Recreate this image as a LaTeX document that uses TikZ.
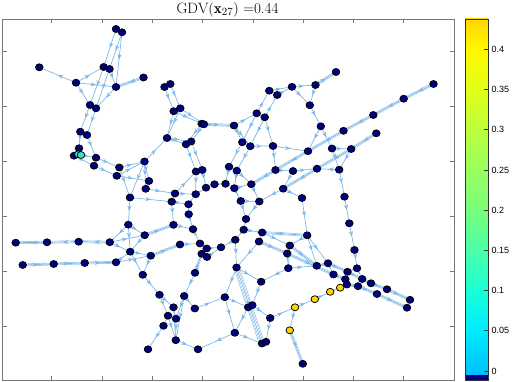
\documentclass[tikz,border=0pt]{standalone}
\usepackage{fontspec}
\newfontfamily\axfont{Liberation Sans}
\usetikzlibrary{arrows.meta,decorations.markings,backgrounds,shapes.geometric}
\definecolor{navy}{RGB}{0,0,130}
\definecolor{gnode}{RGB}{255,212,0}
\definecolor{tnode}{RGB}{60,225,200}
\definecolor{eblue}{RGB}{125,185,232}
\definecolor{framec}{RGB}{120,120,120}
\definecolor{cbA}{RGB}{0,188,255}
\definecolor{cbB}{RGB}{0,195,255}
\definecolor{cbC}{RGB}{0,235,255}
\definecolor{cbD}{RGB}{25,255,212}
\definecolor{cbE}{RGB}{75,255,168}
\definecolor{cbF}{RGB}{120,255,122}
\definecolor{cbG}{RGB}{152,255,95}
\definecolor{cbH}{RGB}{188,255,60}
\definecolor{cbI}{RGB}{226,255,25}
\definecolor{cbJ}{RGB}{255,248,0}
\definecolor{cbK}{RGB}{255,214,0}
\begin{document}
\begin{tikzpicture}[x=1pt,y=-1pt,
  nd/.style={ellipse,draw=black,line width=0.75pt,fill=navy,inner sep=0pt,minimum width=7.6pt,minimum height=7.0pt},
  ynd/.style={nd,fill=gnode},
  tnd/.style={nd,fill=tnode},
  ed/.style={draw=eblue,line width=0.7pt,postaction={decorate},
    decoration={markings,mark=at position 0.5 with {\arrow{Stealth[length=5.5pt,width=4.2pt]}}}},
  bd/.style={ed,preaction={draw=eblue,line width=0.55pt,double=white,double distance=1.5pt}},
  wb/.style={ed,preaction={draw=eblue,line width=0.55pt,double=white,double distance=4.6pt},
    preaction={draw=eblue,line width=0.5pt,double=white,double distance=2.2pt}},
  frame/.style={draw=framec,line width=0.7pt},
  lab/.style={anchor=west,inner sep=0pt,font=\axfont\fontsize{9}{10}\selectfont}]
\useasboundingbox (0,0) rectangle (512,382);
% axes frame
\draw[frame] (2,19) rectangle (454.3,380.3);
\foreach \k in {0,...,7}{
  \pgfmathsetmacro{\xx}{51.7+50.3*\k}
  \draw[frame] (\xx,19) -- (\xx,23.5);
  \draw[frame] (\xx,380.3) -- (\xx,375.8);
}
\foreach \k in {0,...,5}{
  \pgfmathsetmacro{\yy}{51.7+54.9*\k}
  \draw[frame] (2,\yy) -- (6.5,\yy);
  \draw[frame] (454.3,\yy) -- (449.8,\yy);
}
\node[font=\fontsize{15}{17}\selectfont] (title) at (227.5,10) {$\mathrm{GDV}(\mathbf{x}_{27})$ =0.44};
% nodes
\node[nd] (A1) at (39.3,67.3) {};
\node[nd] (A2) at (76,82.7) {};
\node[nd] (A3) at (103.7,67) {};
\node[nd] (A4) at (109.5,69) {};
\node[nd] (A5) at (116,29) {};
\node[nd] (A6) at (122,32.3) {};
\node[nd] (A7) at (116,87) {};
\node[nd] (A8) at (143.5,77.5) {};
\node[nd] (A9) at (90,105) {};
\node[nd] (A10) at (96,108.3) {};
\node[nd] (A11) at (80.3,131.7) {};
\node[nd] (A12) at (87,135) {};
\node[nd] (A13) at (79,148.3) {};
\node[nd] (A14) at (74,155.7) {};
\node[tnd] (T1) at (78.3,154.3) {};
\node[tnd] (T2) at (81,155) {};
\node[nd] (A15) at (96,157.7) {};
\node[nd] (A16) at (94,165.7) {};
\node[nd] (A17) at (119.3,167.5) {};
\node[nd] (A18) at (116.8,175.8) {};
\node[nd] (A19) at (144.5,161.5) {};
\node[nd] (A20) at (149,181) {};
\node[nd] (A21) at (145.7,188.8) {};
\node[nd] (A22) at (130,197.5) {};
\node[nd] (B1) at (164.5,87) {};
\node[nd] (B2) at (170.3,84) {};
\node[nd] (B3) at (173.7,111.2) {};
\node[nd] (B4) at (180.3,108.3) {};
\node[nd] (B5) at (201.7,123.7) {};
\node[nd] (B6) at (204,124.3) {};
\node[nd] (B7) at (167,138) {};
\node[nd] (B8) at (186,144.3) {};
\node[nd] (B9) at (191.2,141.5) {};
\node[nd] (B10) at (234,125.5) {};
\node[nd] (B11) at (256.7,113.3) {};
\node[nd] (B12) at (264.7,117.3) {};
\node[nd] (B13) at (242.3,142.2) {};
\node[nd] (B14) at (250.3,146.2) {};
\node[nd] (B15) at (229,166.7) {};
\node[nd] (B16) at (236.8,170.7) {};
\node[nd] (B17) at (196,171.5) {};
\node[nd] (B18) at (202.3,170) {};
\node[nd] (B19) at (206,187.7) {};
\node[nd] (B20) at (214.5,184.3) {};
\node[nd] (B21) at (225.5,183.8) {};
\node[nd] (B22) at (234.3,188.2) {};
\node[nd] (B23) at (251.3,184.2) {};
\node[nd] (B24) at (175,193.5) {};
\node[nd] (B25) at (195.7,194.2) {};
\node[nd] (C1) at (269.3,90.7) {};
\node[nd] (C2) at (277.2,95) {};
\node[nd] (C3) at (292,86.8) {};
\node[nd] (C4) at (315.5,85) {};
\node[nd] (C5) at (336,72) {};
\node[nd] (C6) at (309.8,105.2) {};
\node[nd] (C7) at (320.8,126.3) {};
\node[nd] (C8) at (343.5,130.8) {};
\node[nd] (C9) at (376.3,133.3) {};
\node[nd] (C10) at (373.3,115) {};
\node[nd] (C11) at (403.7,98.7) {};
\node[nd] (C12) at (433.5,84) {};
\node[nd] (C13) at (273,146) {};
\node[nd] (C14) at (308,151.2) {};
\node[nd] (C15) at (332,148.5) {};
\node[nd] (C16) at (351.2,149) {};
\node[nd] (C17) at (275.5,170) {};
\node[nd] (C18) at (293,171) {};
\node[nd] (C19) at (317,168.7) {};
\node[nd] (C20) at (339.2,169.7) {};
\node[nd] (C21) at (283.2,188.7) {};
\node[nd] (C22) at (302,198) {};
\node[nd] (C23) at (344.5,196.7) {};
\node[nd] (D1) at (240.8,201) {};
\node[nd] (D2) at (259.3,201.5) {};
\node[nd] (D3) at (246,219) {};
\node[nd] (D4) at (243.7,229.7) {};
\node[nd] (D5) at (262.2,232.5) {};
\node[nd] (D6) at (259,241.5) {};
\node[nd] (D7) at (235.3,239.8) {};
\node[nd] (D8) at (221,247.3) {};
\node[nd] (D9) at (236.5,267.5) {};
\node[nd] (D10) at (261.2,281.7) {};
\node[nd] (D11) at (224.8,297.2) {};
\node[nd] (D12) at (248.2,307.3) {};
\node[nd] (D13) at (252.3,305.2) {};
\node[nd] (D14) at (270.2,318) {};
\node[nd] (D15) at (234.8,332.8) {};
\node[nd] (D16) at (262,343.5) {};
\node[nd] (D16b) at (266,341.8) {};
\node[nd] (D17) at (307.2,235.3) {};
\node[nd] (D18) at (289.8,245.5) {};
\node[nd] (D19) at (287.2,253.5) {};
\node[nd] (D20) at (288.3,268.2) {};
\node[nd] (D21) at (316.7,265.8) {};
\node[nd] (D22) at (328,263.3) {};
\node[nd] (D23) at (333.5,274.5) {};
\node[nd] (D24) at (349.3,223.3) {};
\node[nd] (D25) at (354.5,250) {};
\node[nd] (D26) at (357,268.3) {};
\node[nd] (D27) at (347.5,271.8) {};
\node[nd] (D28) at (345.3,279.3) {};
\node[nd] (D29) at (346.8,284.5) {};
\node[nd] (D30) at (362.2,279) {};
\node[nd] (D31) at (358,286.2) {};
\node[nd] (D32) at (371,283.3) {};
\node[nd] (D33) at (377,294) {};
\node[nd] (D34) at (387,289.3) {};
\node[nd] (D35) at (410,299.8) {};
\node[nd] (D36) at (407,307.7) {};
\node[ynd] (Y1) at (340.2,287.7) {};
\node[ynd] (Y2) at (330.2,291.8) {};
\node[ynd] (Y3) at (314.8,299.2) {};
\node[ynd] (Y4) at (295,307.3) {};
\node[ynd] (Y5) at (289.8,330.3) {};
\node[nd] (D37) at (302.8,363.8) {};
\node[nd] (E1) at (15.7,242.7) {};
\node[nd] (E2) at (47,242.3) {};
\node[nd] (E3) at (78.7,241.7) {};
\node[nd] (E4) at (109.8,242.2) {};
\node[nd] (E5) at (22.7,265) {};
\node[nd] (E6) at (53.7,264) {};
\node[nd] (E7) at (84.7,263) {};
\node[nd] (E8) at (116,262.3) {};
\node[nd] (E9) at (128.3,224.7) {};
\node[nd] (E10) at (144.7,235.2) {};
\node[nd] (E11) at (130.2,251.7) {};
\node[nd] (E12) at (150.8,255.7) {};
\node[nd] (E13) at (142.8,274.8) {};
\node[nd] (E15) at (159.5,294.8) {};
\node[nd] (E16) at (173.5,307.3) {};
\node[nd] (E17) at (168,315.7) {};
\node[nd] (E18) at (176,318.7) {};
\node[nd] (E19) at (163.5,325.8) {};
\node[nd] (E20) at (175.8,340.2) {};
\node[nd] (E21) at (148,349.3) {};
\node[nd] (E22) at (198,349.3) {};
\node[nd] (E23) at (184.2,296) {};
\node[nd] (E24) at (194.8,308.5) {};
\node[nd] (E25) at (195,272.8) {};
\node[nd] (E26) at (180,244.5) {};
\node[nd] (E27) at (173.5,224.8) {};
\node[nd] (E28) at (193,229.2) {};
\node[nd] (E29) at (200,243.5) {};
\node[nd] (E30) at (206.7,248.5) {};
\node[nd] (E31) at (201.7,253.8) {};
\node[nd] (E32) at (207,257) {};
\node[nd] (E35) at (171.7,201.7) {};
\node[nd] (E36) at (188.5,204.3) {};
\node[nd] (E37) at (188.7,214.2) {};
% edges
\begin{pgfonlayer}{background}
\foreach \a/\b in {A2/A1,A2/A3,A2/A7,A2/A9,A5/A3,A5/A6,A6/A4,A6/A7,A3/A4,A3/A9,A4/A10,A4/A7,A7/A10,A9/A10,A9/A11,A10/A12,A11/A12,A11/A13,A12/A15,A13/A14,A13/T1,T1/T2,A14/A16,T2/A15,A15/A17,A16/A18,A17/A19,A18/A19,A17/A22,A19/A20,A19/A21,A18/A20,A19/A22,A20/A21,A21/B24,A19/B7,
B1/B2,B1/B3,B2/B4,B3/B4,B3/B7,B4/B7,B3/B5,B4/B6,B5/B6,B5/B8,B6/B9,B7/B8,B7/B9,B8/B9,B8/B17,B9/B18,B10/B11,B10/B13,B10/B14,B11/B12,B11/C1,B12/C2,B12/B14,B11/B13,B13/B15,B14/B16,B13/B14,B15/B16,B15/B21,B16/B22,B17/B18,B17/B25,B18/B19,B19/B20,B20/B21,B21/B22,B22/B23,B16/B23,B24/B25,B24/B17,B25/B19,B22/D1,B23/D2,
C1/C2,C1/C3,C2/C3,C3/C4,C3/C6,C4/C6,C6/C7,C7/C14,C7/C15,B14/C13,B12/C13,C13/C17,C13/C14,C15/C16,C15/C20,C16/C20,C20/C19,C17/C18,C18/C19,C18/C21,C21/C22,C21/D2,C20/C23,C22/D17,C23/D24,D24/D25,D25/D26,
D1/D2,D1/D3,D2/D3,D3/D4,D4/D5,D5/D6,D4/D7,D7/D8,D7/D9,D6/D9,D5/D18,D9/D11,D9/D10,D9/D12,D10/D13,D11/D12,D11/D15,D12/D15,D13/D14,D14/D16b,D15/D16,D15/E22,D14/Y4,Y4/Y3,Y3/Y2,Y2/Y1,Y4/Y5,D17/D18,D18/D19,D18/D20,D19/D20,D20/D10,D20/D21,D17/D21,D17/D22,D28/D29,D26/D27,D26/D30,Y1/D29,D35/D36,D22/D23,
E9/E4,E4/E10,E4/E11,E8/E11,E8/E12,E9/E10,E9/E11,E10/E11,E11/E12,E11/E13,E12/E13,A22/E9,E13/E15,E15/E16,E15/E17,E16/E18,E17/E19,E19/E21,E18/E20,E17/E20,E16/E20,E23/E18,E23/E20,E25/E23,E23/E24,E24/D11,E20/E22,E26/E29,E28/E29,E29/E30,E30/D8,E31/E32,E32/D8,E27/E28,E37/E28,E36/E37,E35/E36,E35/E27,E35/B24,E36/B25,A22/E35,E30/E31}
  \draw[ed] (\a.center) -- (\b.center);
\foreach \a/\b in {A8/A7,B6/B10,C4/C5,C12/C11,C11/C10,C10/C8,C8/C14,C14/C17,C17/B23,C9/C16,C16/C19,C19/C21,D5/D17,D6/D19,Y5/D37,D18/D21,D19/D23,D21/D22,D22/D27,D27/D30,D30/D32,D32/D34,D34/D35,D23/D28,D29/D31,D31/D33,D33/D36,E4/E3,E3/E2,E2/E1,E5/E6,E6/E7,E7/E8,E10/E27,E12/E26,E25/E31}
  \draw[bd] (\a.center) -- (\b.center);
\draw[wb] (D9.center) -- (D16.center);
\end{pgfonlayer}
% colorbar
\fill[navy] (465,374) rectangle (488,380.5);
\shade[bottom color=cbA,top color=cbB] (465,374.2) rectangle (488,370.8);
\shade[bottom color=cbB,top color=cbC] (465,371.2) rectangle (488,330.6);
\shade[bottom color=cbC,top color=cbD] (465,331) rectangle (488,290.4);
\shade[bottom color=cbD,top color=cbE] (465,290.8) rectangle (488,250.2);
\shade[bottom color=cbE,top color=cbF] (465,250.6) rectangle (488,210);
\shade[bottom color=cbF,top color=cbG] (465,210.4) rectangle (488,169.8);
\shade[bottom color=cbG,top color=cbH] (465,170.2) rectangle (488,129.6);
\shade[bottom color=cbH,top color=cbI] (465,130) rectangle (488,89.4);
\shade[bottom color=cbI,top color=cbJ] (465,89.8) rectangle (488,49.2);
\shade[bottom color=cbJ,top color=cbK] (465,49.6) rectangle (488,19);
\draw[draw=black!80,line width=0.8pt] (465,19) rectangle (488,380.5);
\foreach \v/\t in {0/0,0.05/0.05,0.1/0.1,0.15/0.15,0.2/0.2,0.25/0.25,0.3/0.3,0.35/0.35,0.4/0.4}{
  \pgfmathsetmacro{\yy}{371-\v*804}
  \draw[black!80,line width=0.7pt] (483.5,\yy) -- (488,\yy);
  \node[lab] at (491.5,\yy) {\t};
}
\end{tikzpicture}
\end{document}
